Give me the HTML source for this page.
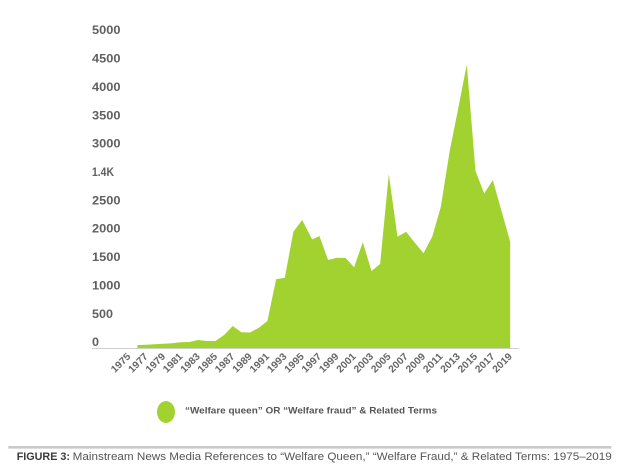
<!DOCTYPE html>
<html>
<head>
<meta charset="utf-8">
<style>
html,body{margin:0;padding:0;background:#fff;}
svg{display:block;}
text{font-family:"Liberation Sans",Arial,sans-serif;}
</style>
</head>
<body>
<svg width="619" height="469" viewBox="0 0 619 469" xmlns="http://www.w3.org/2000/svg">
  <rect x="0" y="0" width="619" height="469" fill="#fff"/>
  <!-- y axis labels -->
  <g font-size="11.5" font-weight="bold" fill="#606060">
    <text x="92" y="34.2" textLength="28.5" lengthAdjust="spacingAndGlyphs">5000</text>
    <text x="92" y="62.6" textLength="28.5" lengthAdjust="spacingAndGlyphs">4500</text>
    <text x="92" y="90.9" textLength="28.5" lengthAdjust="spacingAndGlyphs">4000</text>
    <text x="92" y="119.3" textLength="28.5" lengthAdjust="spacingAndGlyphs">3500</text>
    <text x="92" y="147.6" textLength="28.5" lengthAdjust="spacingAndGlyphs">3000</text>
    <text x="92" y="176.0" textLength="22" lengthAdjust="spacingAndGlyphs">1.4K</text>
    <text x="92" y="204.4" textLength="28.5" lengthAdjust="spacingAndGlyphs">2500</text>
    <text x="92" y="232.7" textLength="28.5" lengthAdjust="spacingAndGlyphs">2000</text>
    <text x="92" y="261.1" textLength="28.5" lengthAdjust="spacingAndGlyphs">1500</text>
    <text x="92" y="289.4" textLength="28.5" lengthAdjust="spacingAndGlyphs">1000</text>
    <text x="92" y="317.8" textLength="21" lengthAdjust="spacingAndGlyphs">500</text>
    <text x="92" y="346.2" textLength="7" lengthAdjust="spacingAndGlyphs">0</text>
  </g>
  <!-- area -->
  <path fill="#a1d22f" d="M137.4,348 L137.4,345 L146.0,344.8 L154.7,344.3 L163.4,343.8 L172.1,343.2 L180.7,342.3 L189.4,342 L198.1,340 L206.7,341 L215.4,341 L224.1,335 L232.7,326 L241.4,332.3 L250.1,332.5 L258.8,327.7 L267.4,321 L276.1,279.3 L284.8,277.7 L293.4,231.7 L302.1,220 L312.2,239.5 L319.4,236 L328.1,260 L336.8,257.7 L345.5,258 L354.1,267.3 L362.8,242.3 L371.5,271 L380.1,264 L388.8,174.3 L397.5,236.7 L406.1,231.7 L414.8,242.7 L423.5,253.3 L432.2,236.7 L440.8,207 L449.5,152 L458.2,108.5 L466.8,64.5 L475.5,171 L484.2,193.5 L492.8,180 L501.5,211 L510.2,241.7 L510.2,348 Z"/>
  <!-- axis line -->
  <line x1="92" y1="348.5" x2="519" y2="348.5" stroke="#cfcfcf" stroke-width="1"/>
  <!-- x labels -->
  <g font-size="10" font-weight="bold" fill="#666" text-anchor="end">
    <text transform="translate(131.2,357) rotate(-45)" textLength="23" lengthAdjust="spacingAndGlyphs">1975</text>
    <text transform="translate(148.5,357) rotate(-45)" textLength="23" lengthAdjust="spacingAndGlyphs">1977</text>
    <text transform="translate(165.9,357) rotate(-45)" textLength="23" lengthAdjust="spacingAndGlyphs">1979</text>
    <text transform="translate(183.2,357) rotate(-45)" textLength="23" lengthAdjust="spacingAndGlyphs">1981</text>
    <text transform="translate(200.6,357) rotate(-45)" textLength="23" lengthAdjust="spacingAndGlyphs">1983</text>
    <text transform="translate(217.9,357) rotate(-45)" textLength="23" lengthAdjust="spacingAndGlyphs">1985</text>
    <text transform="translate(235.2,357) rotate(-45)" textLength="23" lengthAdjust="spacingAndGlyphs">1987</text>
    <text transform="translate(252.6,357) rotate(-45)" textLength="23" lengthAdjust="spacingAndGlyphs">1989</text>
    <text transform="translate(269.9,357) rotate(-45)" textLength="23" lengthAdjust="spacingAndGlyphs">1991</text>
    <text transform="translate(287.3,357) rotate(-45)" textLength="23" lengthAdjust="spacingAndGlyphs">1993</text>
    <text transform="translate(304.6,357) rotate(-45)" textLength="23" lengthAdjust="spacingAndGlyphs">1995</text>
    <text transform="translate(321.9,357) rotate(-45)" textLength="23" lengthAdjust="spacingAndGlyphs">1997</text>
    <text transform="translate(339.3,357) rotate(-45)" textLength="23" lengthAdjust="spacingAndGlyphs">1999</text>
    <text transform="translate(356.6,357) rotate(-45)" textLength="23" lengthAdjust="spacingAndGlyphs">2001</text>
    <text transform="translate(374.0,357) rotate(-45)" textLength="23" lengthAdjust="spacingAndGlyphs">2003</text>
    <text transform="translate(391.3,357) rotate(-45)" textLength="23" lengthAdjust="spacingAndGlyphs">2005</text>
    <text transform="translate(408.6,357) rotate(-45)" textLength="23" lengthAdjust="spacingAndGlyphs">2007</text>
    <text transform="translate(426.0,357) rotate(-45)" textLength="23" lengthAdjust="spacingAndGlyphs">2009</text>
    <text transform="translate(443.3,357) rotate(-45)" textLength="23" lengthAdjust="spacingAndGlyphs">2011</text>
    <text transform="translate(460.7,357) rotate(-45)" textLength="23" lengthAdjust="spacingAndGlyphs">2013</text>
    <text transform="translate(478.0,357) rotate(-45)" textLength="23" lengthAdjust="spacingAndGlyphs">2015</text>
    <text transform="translate(495.3,357) rotate(-45)" textLength="23" lengthAdjust="spacingAndGlyphs">2017</text>
    <text transform="translate(512.7,357) rotate(-45)" textLength="23" lengthAdjust="spacingAndGlyphs">2019</text>
  </g>
  <!-- legend -->
  <ellipse cx="166" cy="412" rx="9" ry="11" fill="#a1d22f"/>
  <text x="185" y="413.3" font-size="9.5" font-weight="bold" fill="#555" textLength="252" lengthAdjust="spacingAndGlyphs">“Welfare queen” OR “Welfare fraud” &amp; Related Terms</text>
  <!-- separator -->
  <rect x="8.3" y="446" width="603" height="2.6" fill="#c9c9c9"/>
  <!-- caption -->
  <text x="16.7" y="460" font-size="11" font-weight="bold" fill="#3a3a3a" textLength="53.3" lengthAdjust="spacingAndGlyphs">FIGURE 3:</text>
  <text x="72.7" y="460" font-size="11" fill="#555" textLength="539" lengthAdjust="spacingAndGlyphs">Mainstream News Media References to “Welfare Queen,” “Welfare Fraud,” &amp; Related Terms: 1975–2019</text>
</svg>
</body>
</html>
